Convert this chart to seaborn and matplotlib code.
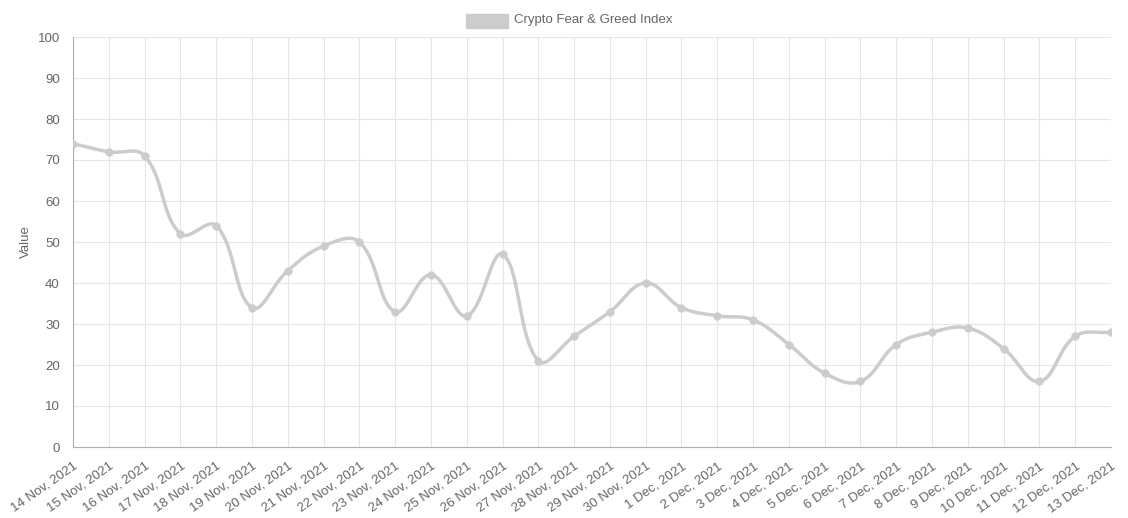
import numpy as np
import matplotlib
matplotlib.use("Agg")
import matplotlib.pyplot as plt
import seaborn as sns

labels = ["14 Nov, 2021","15 Nov, 2021","16 Nov, 2021","17 Nov, 2021","18 Nov, 2021","19 Nov, 2021",
          "20 Nov, 2021","21 Nov, 2021","22 Nov, 2021","23 Nov, 2021","24 Nov, 2021","25 Nov, 2021",
          "26 Nov, 2021","27 Nov, 2021","28 Nov, 2021","29 Nov, 2021","30 Nov, 2021","1 Dec, 2021",
          "2 Dec, 2021","3 Dec, 2021","4 Dec, 2021","5 Dec, 2021","6 Dec, 2021","7 Dec, 2021",
          "8 Dec, 2021","9 Dec, 2021","10 Dec, 2021","11 Dec, 2021","12 Dec, 2021","13 Dec, 2021"]
values = [74,72,71,52,54,34,43,49,50,33,42,32,47,21,27,33,40,34,32,31,25,18,16,25,28,29,24,16,27,28]

sns.set_theme(style="white")
plt.rcParams['font.family'] = ['Liberation Sans', 'DejaVu Sans']

fig = plt.figure(figsize=(11.28, 5.18), dpi=100)
ax = fig.add_axes([73/1128, 1-447/518, (1111-73)/1128, (447-37)/518])

x = np.arange(len(values), dtype=float)
y = np.array(values, dtype=float)

# Chart.js-style bezier smoothing (tension 0.4) in pixel-ish space
sx, sy = (1111-73)/(len(x)-1), 410/100.0
px, py = x*sx, y*sy
t = 0.4
cx, cy = [], []
for i in range(len(px)):
    p0 = max(i-1, 0); p2 = min(i+1, len(px)-1)
    d01 = np.hypot(px[i]-px[p0], py[i]-py[p0]); d12 = np.hypot(px[p2]-px[i], py[p2]-py[i])
    s = d01+d12
    fa = t*d01/s if s else 0; fb = t*d12/s if s else 0
    cx.append((px[i]-fa*(px[p2]-px[p0]), py[i]-fa*(py[p2]-py[p0]), px[i]+fb*(px[p2]-px[p0]), py[i]+fb*(py[p2]-py[p0])))
cx = np.array(cx)
xs, ys = [], []
u = np.linspace(0, 1, 30)
for i in range(len(px)-1):
    P0 = np.array([px[i], py[i]]); P1 = cx[i, 2:4]; P2 = cx[i+1, 0:2]; P3 = np.array([px[i+1], py[i+1]])
    B = ((1-u)**3)[:, None]*P0 + (3*(1-u)**2*u)[:, None]*P1 + (3*(1-u)*u**2)[:, None]*P2 + (u**3)[:, None]*P3
    xs.extend(B[:, 0]/sx); ys.extend(B[:, 1]/sy)

col = "#cccccc"
ax.plot(xs, ys, color=col, lw=2.5, zorder=3, solid_capstyle="round")
sns.scatterplot(x=x, y=y, ax=ax, color=col, s=30, edgecolor=col, zorder=4, legend=False)

ax.set_xlim(0, len(x)-1)
ax.set_ylim(0, 100)
ax.set_yticks(range(0, 101, 10))
ax.set_xticks(x)
ax.set_xticklabels(labels, rotation=35, ha="right", rotation_mode="anchor", fontsize=9.5, color="#666666")
ax.tick_params(axis="y", labelsize=9.5, labelcolor="#666666", length=6, color="#e0e0e0")
ax.tick_params(axis="x", length=6, color="#e0e0e0")
ax.grid(True, color="#e6e6e6", lw=0.8)
for s_ in ["top", "right"]:
    ax.spines[s_].set_visible(False)
for s_ in ["left", "bottom"]:
    ax.spines[s_].set_color("#b0b0b0"); ax.spines[s_].set_linewidth(0.8)
ax.set_ylabel("Value", fontsize=9.5, color="#666666")

from matplotlib.patches import Rectangle
fig.patches.append(Rectangle((466/1128, 1-28/518), 42/1128, 14/518, transform=fig.transFigure,
                             facecolor=col, edgecolor=col))
fig.text(514/1128, 1-20/518, "Crypto Fear & Greed Index", fontsize=9.5, color="#666666", va="center")

fig.savefig("out.png", dpi=100)
